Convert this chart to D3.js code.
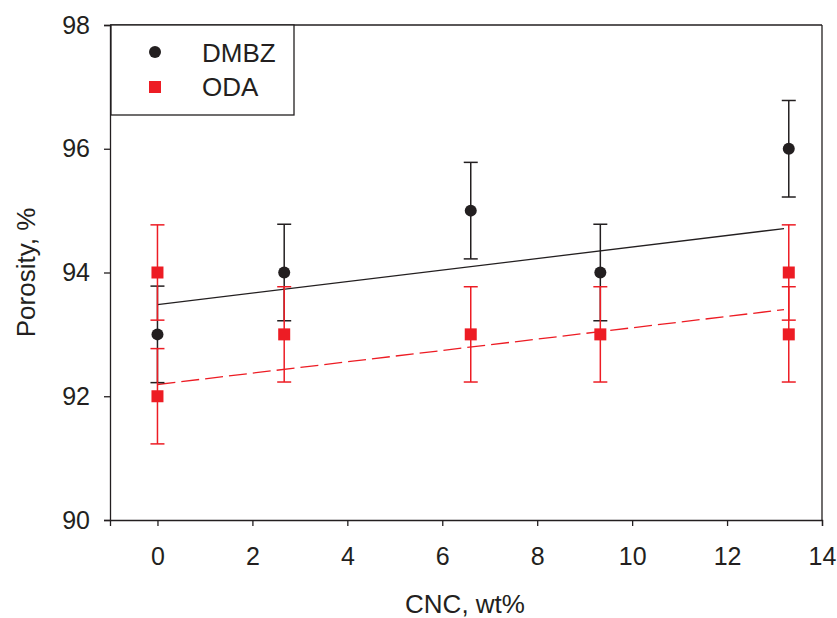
<!DOCTYPE html>
<html>
<head>
<meta charset="utf-8">
<script src="https://cdn.jsdelivr.net/npm/d3@7"></script>
<style>
  body { margin: 0; background: #fff; }
  svg text { font-family: "Liberation Sans", Arial, sans-serif; fill: #231f20; }
</style>
</head>
<body>
<svg id="chart" width="837" height="618"></svg>
<script>
// data
const dmbzX = [0, 2.67, 6.6, 9.33, 13.3];
const dmbzY = [93, 94, 95, 94, 96];
const dmbzErr = [0.78, 0.78, 0.78, 0.78, 0.78];

const odaX = [0, 0, 2.67, 6.6, 9.33, 13.3, 13.3];
const odaY = [94, 92, 93, 93, 93, 94, 93];
const odaErr = [0.77, 0.77, 0.77, 0.77, 0.77, 0.77, 0.77];

// fitted lines, endpoints
const dmbzFit = [[0, 93.48], [13.2, 94.71]];
const odaFit = [[0, 92.19], [13.2, 93.40]];

const xTicks = [0, 2, 4, 6, 8, 10, 12, 14];
const yTicks = [90, 92, 94, 96, 98];

const black = "#231f20";
const red = "#ed1c24";

const svg = d3.select("#chart");
const pLeft = 110, pRight = 822, pTop = 25, pBottom = 520;

const x = d3.scaleLinear().domain([-1, 14]).range([pLeft, pRight]);
const y = d3.scaleLinear().domain([90, 98]).range([pBottom, pTop]);

// frame (top and right)
svg.append("line").attr("x1", pLeft).attr("x2", pRight).attr("y1", pTop).attr("y2", pTop)
  .attr("stroke", black).attr("stroke-width", 1.3);
svg.append("line").attr("x1", pRight).attr("x2", pRight).attr("y1", pTop).attr("y2", pBottom)
  .attr("stroke", black).attr("stroke-width", 1.3);

const xAxis = svg.append("g").attr("transform", `translate(0,${pBottom})`)
  .call(d3.axisBottom(x).tickValues(xTicks).tickSize(6).tickPadding(21));
const yAxis = svg.append("g").attr("transform", `translate(${pLeft},0)`)
  .call(d3.axisLeft(y).tickValues(yTicks).tickSize(6).tickPadding(14));

[xAxis, yAxis].forEach(g => {
  g.select(".domain").attr("stroke", black).attr("stroke-width", 1.3);
  g.selectAll(".tick line").attr("stroke", black).attr("stroke-width", 1.3);
  g.selectAll(".tick text").attr("font-size", 25).attr("fill", black)
    .style("font-family", "'Liberation Sans', Arial, sans-serif");
});

// axis titles
svg.append("text").attr("x", 465).attr("y", 613)
  .attr("text-anchor", "middle").attr("font-size", 26).text("CNC, wt%");
svg.append("text").attr("transform", `translate(35,${(pTop + pBottom) / 2}) rotate(-90)`)
  .attr("text-anchor", "middle").attr("font-size", 26).text("Porosity, %");

// regression lines
const line = d3.line().x(d => x(d[0])).y(d => y(d[1]));
svg.append("path").datum(dmbzFit).attr("d", line)
  .attr("stroke", black).attr("stroke-width", 1.3).attr("fill", "none");
svg.append("path").datum(odaFit).attr("d", line)
  .attr("stroke", red).attr("stroke-width", 1.3).attr("fill", "none")
  .attr("stroke-dasharray", "18,6");

function errorBars(xs, ys, es, color) {
  const g = svg.append("g").attr("stroke", color).attr("stroke-width", 1.5);
  xs.forEach((xv, i) => {
    const cx = x(xv), y0 = y(ys[i] - es[i]), y1 = y(ys[i] + es[i]);
    g.append("line").attr("x1", cx).attr("x2", cx).attr("y1", y0).attr("y2", y1);
    g.append("line").attr("x1", cx - 7).attr("x2", cx + 7).attr("y1", y0).attr("y2", y0);
    g.append("line").attr("x1", cx - 7).attr("x2", cx + 7).attr("y1", y1).attr("y2", y1);
  });
}

errorBars(dmbzX, dmbzY, dmbzErr, black);
svg.append("g").selectAll("circle").data(dmbzX).enter().append("circle")
  .attr("cx", d => x(d)).attr("cy", (d, i) => y(dmbzY[i])).attr("r", 6)
  .attr("fill", black);

errorBars(odaX, odaY, odaErr, red);
svg.append("g").selectAll("rect").data(odaX).enter().append("rect")
  .attr("x", d => x(d) - 6).attr("y", (d, i) => y(odaY[i]) - 6)
  .attr("width", 12).attr("height", 12).attr("fill", red);

// legend
const lg = svg.append("g");
lg.append("rect").attr("x", 111).attr("y", 25).attr("width", 183).attr("height", 90)
  .attr("fill", "#fff").attr("stroke", black).attr("stroke-width", 1.3);
lg.append("circle").attr("cx", 155).attr("cy", 52).attr("r", 6).attr("fill", black);
lg.append("rect").attr("x", 149).attr("y", 81).attr("width", 12).attr("height", 12).attr("fill", red);
lg.append("text").attr("x", 202).attr("y", 62).attr("font-size", 26).text("DMBZ");
lg.append("text").attr("x", 202).attr("y", 96).attr("font-size", 26).text("ODA");
</script>
</body>
</html>
